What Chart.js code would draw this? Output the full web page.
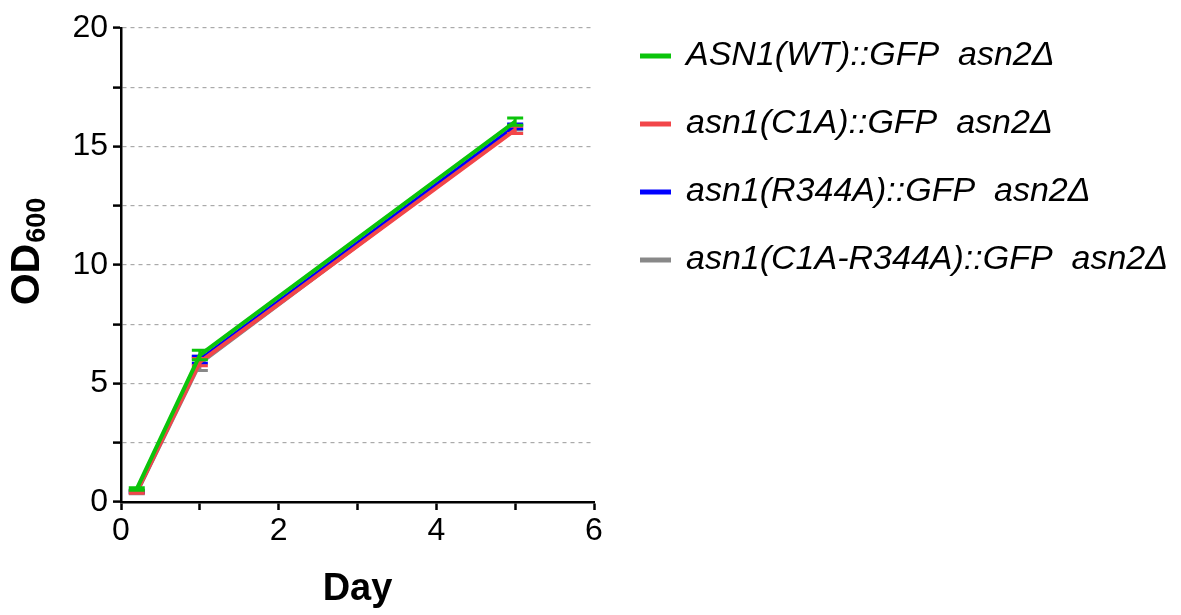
<!DOCTYPE html>
<html>
<head>
<meta charset="utf-8">
<script src="https://cdn.jsdelivr.net/npm/chart.js@4"></script>
<style>
  html, body { margin: 0; padding: 0; background: #fff; }
  #wrap { width: 1181px; height: 615px; }
</style>
</head>
<body>
<div id="wrap"><canvas id="myChart" width="1181" height="615"></canvas></div>
<script>
// data
const days = [0.2, 1, 5];
const seriesNames = [
  "ASN1(WT)::GFP  asn2\u0394",
  "asn1(C1A)::GFP  asn2\u0394",
  "asn1(R344A)::GFP  asn2\u0394",
  "asn1(C1A-R344A)::GFP  asn2\u0394"
];
const wtOD = [0.55, 6.2, 16.05];
const c1aOD = [0.42, 5.9, 15.7];
const r344aOD = [0.45, 6.0, 15.85];
const doubleOD = [0.4, 5.85, 15.8];
const wtErr = [0.05, 0.2, 0.15];
const c1aErr = [0.05, 0.15, 0.15];
const r344aErr = [0.05, 0.15, 0.1];
const doubleErr = [0.05, 0.3, 0.1];
const yTicks = [0, 5, 10, 15, 20];
const xTicks = [0, 2, 4, 6];

const colors = ["#0bc40b", "#f24649", "#0000ff", "#888888"];

function toPoints(vals) {
  return days.map((d, i) => ({ x: d, y: vals[i] }));
}

function makeSet(i, vals, err) {
  return {
    label: seriesNames[i],
    data: toPoints(vals),
    errors: err,
    borderColor: colors[i],
    backgroundColor: colors[i],
    borderWidth: 4,
    pointRadius: 0,
    tension: 0
  };
}

// error bars, drawn with each dataset so the stacking order is kept
const errorBars = {
  id: 'errorBars',
  afterDatasetDraw(chart, args) {
    const ds = chart.data.datasets[args.index];
    const y = chart.scales.y;
    const c = chart.ctx;
    c.save();
    c.strokeStyle = ds.borderColor;
    c.lineWidth = 3;
    args.meta.data.forEach((pt, i) => {
      const v = ds.data[i].y, e = ds.errors[i];
      const top = y.getPixelForValue(v + e);
      const bot = y.getPixelForValue(v - e);
      c.beginPath();
      c.moveTo(pt.x, top); c.lineTo(pt.x, bot);
      c.moveTo(pt.x - 8, top); c.lineTo(pt.x + 8, top);
      c.moveTo(pt.x - 8, bot); c.lineTo(pt.x + 8, bot);
      c.stroke();
    });
    c.restore();
  }
};

// push the legend a bit away from the plot
const legendGap = {
  id: 'legendGap',
  afterLayout(chart) {
    const lg = chart.legend;
    if (!lg) return;
    const shift = chart.chartArea.right + 14 - lg.left;
    lg.left += shift;
    lg.right += shift;
  }
};

// y title with subscript
const yTitle = {
  id: 'yTitle',
  afterDraw(chart) {
    const c = chart.ctx;
    c.save();
    c.translate(39, 252);
    c.rotate(-Math.PI / 2);
    c.fillStyle = '#000';
    c.textBaseline = 'alphabetic';
    c.font = 'bold 41px "Liberation Sans", Arial, sans-serif';
    const w1 = c.measureText('OD').width;
    c.font = 'bold 27px "Liberation Sans", Arial, sans-serif';
    const w2 = c.measureText('600').width;
    const start = -(w1 + w2) / 2;
    c.font = 'bold 41px "Liberation Sans", Arial, sans-serif';
    c.fillText('OD', start, 0);
    c.font = 'bold 27px "Liberation Sans", Arial, sans-serif';
    c.fillText('600', start + w1 + 1, 6);
    c.restore();
  }
};

const ctx = document.getElementById('myChart').getContext('2d');
const myChart = new Chart(ctx, {
  type: 'line',
  data: {
    datasets: [
      makeSet(0, wtOD, wtErr),
      makeSet(1, c1aOD, c1aErr),
      makeSet(2, r344aOD, r344aErr),
      makeSet(3, doubleOD, doubleErr)
    ]
  },
  options: {
    responsive: false,
    animation: false,
    layout: { padding: { top: 5, right: 3, left: 0, bottom: 0 } },
    plugins: {
      tooltip: { enabled: false },
      legend: {
        position: 'right',
        align: 'start',
        maxWidth: 600,
        labels: {
          boxWidth: 27,
          boxHeight: 1,
          padding: 34,
          color: '#000',
          font: { family: '"Liberation Sans", Arial, sans-serif', size: 34, style: 'italic' }
        }
      }
    },
    scales: {
      x: {
        type: 'linear',
        min: 0, max: 6,
        afterFit(scale) { scale.height = 113; scale.paddingRight = 587; },
        ticks: {
          stepSize: 1,
          padding: 2,
          color: '#000',
          font: { family: '"Liberation Sans", Arial, sans-serif', size: 32 },
          callback: v => xTicks.includes(v) ? String(v) : ''
        },
        grid: { drawOnChartArea: false, tickLength: 8, tickWidth: 2.5, tickColor: '#000' },
        border: { color: '#000', width: 2.5 },
        title: {
          display: true, text: 'Day', color: '#000',
          padding: { top: 0, bottom: 3 },
          font: { family: '"Liberation Sans", Arial, sans-serif', size: 38, weight: 'bold' }
        }
      },
      y: {
        min: 0, max: 20,
        afterFit(scale) { scale.width = 121; scale.paddingTop = 28; },
        ticks: {
          stepSize: 2.5,
          padding: 5,
          color: '#000',
          font: { family: '"Liberation Sans", Arial, sans-serif', size: 32 },
          callback: v => yTicks.includes(v) ? String(v) : ''
        },
        grid: {
          color: '#aaaaaa', lineWidth: 1.2,
          tickLength: 8, tickWidth: 2.5, tickColor: '#000', tickBorderDash: []
        },
        border: { color: '#000', width: 2.5, dash: [4, 4] }
      }
    }
  },
  plugins: [errorBars, legendGap, yTitle]
});
</script>
</body>
</html>
